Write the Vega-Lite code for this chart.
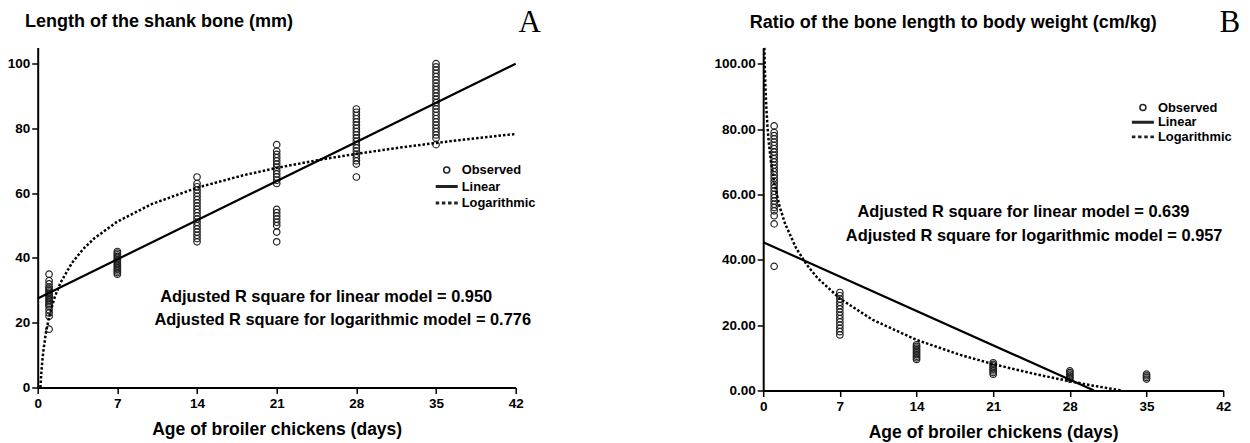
{
 "$schema": "https://vega.github.io/schema/vega-lite/v6.json",
 "background": "white",
 "autosize": {"type": "none"},
 "padding": {"left": 37.7, "top": 47.5, "right": 1212.3, "bottom": 395.5},
 "spacing": 247.5,
 "bounds": "flush",
 "resolve": {"scale": {"shape": "independent", "x": "independent", "y": "independent"}, "legend": {"shape": "independent"}},
 "config": {
  "view": {"stroke": null},
  "font": "Liberation Sans",
  "axis": {"domainColor": "black", "domainWidth": 2, "tickColor": "black", "tickWidth": 1.5, "tickSize": 6, "grid": false,
   "labelFont": "Liberation Sans", "labelFontWeight": "bold", "labelFontSize": 13.5, "labelColor": "black", "labelPadding": 2,
   "labelFlush": false, "labelOverlap": false,
   "titleFont": "Liberation Sans", "titleFontWeight": "bold", "titleFontSize": 17.5, "titleColor": "black", "titlePadding": 10},
  "axisX": {"labelPadding": 3}
 },
 "datasets": {
  "obsA": [
   {"day":1,"v":35,"series":"Observed"},{"day":1,"v":33,"series":"Observed"},{"day":1,"v":32,"series":"Observed"},{"day":1,"v":31,"series":"Observed"},{"day":1,"v":30.5,"series":"Observed"},{"day":1,"v":30,"series":"Observed"},{"day":1,"v":29.5,"series":"Observed"},{"day":1,"v":29,"series":"Observed"},{"day":1,"v":28.5,"series":"Observed"},{"day":1,"v":28,"series":"Observed"},{"day":1,"v":27.5,"series":"Observed"},{"day":1,"v":27,"series":"Observed"},{"day":1,"v":26.5,"series":"Observed"},{"day":1,"v":26,"series":"Observed"},{"day":1,"v":25.5,"series":"Observed"},{"day":1,"v":25,"series":"Observed"},{"day":1,"v":24,"series":"Observed"},{"day":1,"v":23,"series":"Observed"},{"day":1,"v":22,"series":"Observed"},{"day":1,"v":18,"series":"Observed"},
   {"day":7,"v":35,"series":"Observed"},{"day":7,"v":35.5,"series":"Observed"},{"day":7,"v":36,"series":"Observed"},{"day":7,"v":36.5,"series":"Observed"},{"day":7,"v":37,"series":"Observed"},{"day":7,"v":37.5,"series":"Observed"},{"day":7,"v":38,"series":"Observed"},{"day":7,"v":38.5,"series":"Observed"},{"day":7,"v":39,"series":"Observed"},{"day":7,"v":39.5,"series":"Observed"},{"day":7,"v":40,"series":"Observed"},{"day":7,"v":40.5,"series":"Observed"},{"day":7,"v":41,"series":"Observed"},{"day":7,"v":41.5,"series":"Observed"},{"day":7,"v":42,"series":"Observed"},
   {"day":14,"v":45,"series":"Observed"},{"day":14,"v":46,"series":"Observed"},{"day":14,"v":47,"series":"Observed"},{"day":14,"v":48,"series":"Observed"},{"day":14,"v":49,"series":"Observed"},{"day":14,"v":50,"series":"Observed"},{"day":14,"v":51,"series":"Observed"},{"day":14,"v":52,"series":"Observed"},{"day":14,"v":53,"series":"Observed"},{"day":14,"v":54,"series":"Observed"},{"day":14,"v":55,"series":"Observed"},{"day":14,"v":56,"series":"Observed"},{"day":14,"v":57,"series":"Observed"},{"day":14,"v":58,"series":"Observed"},{"day":14,"v":59,"series":"Observed"},{"day":14,"v":60,"series":"Observed"},{"day":14,"v":61,"series":"Observed"},{"day":14,"v":62,"series":"Observed"},{"day":14,"v":63,"series":"Observed"},{"day":14,"v":65,"series":"Observed"},
   {"day":21,"v":63,"series":"Observed"},{"day":21,"v":64,"series":"Observed"},{"day":21,"v":65,"series":"Observed"},{"day":21,"v":66,"series":"Observed"},{"day":21,"v":67,"series":"Observed"},{"day":21,"v":68,"series":"Observed"},{"day":21,"v":69,"series":"Observed"},{"day":21,"v":70,"series":"Observed"},{"day":21,"v":71,"series":"Observed"},{"day":21,"v":72,"series":"Observed"},{"day":21,"v":73,"series":"Observed"},{"day":21,"v":75,"series":"Observed"},{"day":21,"v":45,"series":"Observed"},{"day":21,"v":48,"series":"Observed"},{"day":21,"v":50,"series":"Observed"},{"day":21,"v":51,"series":"Observed"},{"day":21,"v":52,"series":"Observed"},{"day":21,"v":53,"series":"Observed"},{"day":21,"v":54,"series":"Observed"},{"day":21,"v":55,"series":"Observed"},
   {"day":28,"v":65,"series":"Observed"},{"day":28,"v":69,"series":"Observed"},{"day":28,"v":70,"series":"Observed"},{"day":28,"v":71,"series":"Observed"},{"day":28,"v":72,"series":"Observed"},{"day":28,"v":73,"series":"Observed"},{"day":28,"v":74,"series":"Observed"},{"day":28,"v":75,"series":"Observed"},{"day":28,"v":76,"series":"Observed"},{"day":28,"v":77,"series":"Observed"},{"day":28,"v":78,"series":"Observed"},{"day":28,"v":79,"series":"Observed"},{"day":28,"v":80,"series":"Observed"},{"day":28,"v":81,"series":"Observed"},{"day":28,"v":82,"series":"Observed"},{"day":28,"v":83,"series":"Observed"},{"day":28,"v":84,"series":"Observed"},{"day":28,"v":85,"series":"Observed"},{"day":28,"v":86,"series":"Observed"},
   {"day":35,"v":75,"series":"Observed"},{"day":35,"v":77,"series":"Observed"},{"day":35,"v":78,"series":"Observed"},{"day":35,"v":79,"series":"Observed"},{"day":35,"v":80,"series":"Observed"},{"day":35,"v":81,"series":"Observed"},{"day":35,"v":82,"series":"Observed"},{"day":35,"v":83,"series":"Observed"},{"day":35,"v":84,"series":"Observed"},{"day":35,"v":85,"series":"Observed"},{"day":35,"v":86,"series":"Observed"},{"day":35,"v":87,"series":"Observed"},{"day":35,"v":88,"series":"Observed"},{"day":35,"v":89,"series":"Observed"},{"day":35,"v":90,"series":"Observed"},{"day":35,"v":91,"series":"Observed"},{"day":35,"v":92,"series":"Observed"},{"day":35,"v":93,"series":"Observed"},{"day":35,"v":94,"series":"Observed"},{"day":35,"v":95,"series":"Observed"},{"day":35,"v":96,"series":"Observed"},{"day":35,"v":97,"series":"Observed"},{"day":35,"v":98,"series":"Observed"},{"day":35,"v":99,"series":"Observed"},{"day":35,"v":100,"series":"Observed"}
  ],
  "linA": [{"day":0,"v":27.5},{"day":42,"v":100}],
  "logA": [{"day":0.235,"v":0},{"day":0.3,"v":3.67},{"day":0.4,"v":8.02},{"day":0.5,"v":11.38},{"day":0.7,"v":16.46},{"day":1,"v":21.85},{"day":1.5,"v":27.97},{"day":2,"v":32.32},{"day":3,"v":38.44},{"day":4,"v":42.78},{"day":5,"v":46.15},{"day":7,"v":51.23},{"day":10,"v":56.62},{"day":14,"v":61.7},{"day":18,"v":65.49},{"day":21,"v":67.83},{"day":25,"v":70.46},{"day":28,"v":72.16},{"day":32,"v":74.18},{"day":35,"v":75.53},{"day":38,"v":76.78},{"day":42,"v":78.29}],
  "annA": [{"day":25.35,"v":28.0,"label":"Adjusted R square for linear model = 0.950"},{"day":26.8,"v":20.8,"label":"Adjusted R square for logarithmic model = 0.776"}],
  "letterA": [{"day":43.23,"v":109.8,"label":"A"}],
  "titleA": [{"day":-1.116,"v":111.4,"label":"Length of the shank bone (mm)"}],
  "obsB": [
   {"day":1,"v":81,"series":"Observed"},{"day":1,"v":79,"series":"Observed"},{"day":1,"v":78,"series":"Observed"},{"day":1,"v":77,"series":"Observed"},{"day":1,"v":76,"series":"Observed"},{"day":1,"v":75,"series":"Observed"},{"day":1,"v":74,"series":"Observed"},{"day":1,"v":73,"series":"Observed"},{"day":1,"v":72,"series":"Observed"},{"day":1,"v":71,"series":"Observed"},{"day":1,"v":70,"series":"Observed"},{"day":1,"v":69,"series":"Observed"},{"day":1,"v":68,"series":"Observed"},{"day":1,"v":67,"series":"Observed"},{"day":1,"v":66,"series":"Observed"},{"day":1,"v":65,"series":"Observed"},{"day":1,"v":64,"series":"Observed"},{"day":1,"v":63,"series":"Observed"},{"day":1,"v":62,"series":"Observed"},{"day":1,"v":61,"series":"Observed"},{"day":1,"v":60,"series":"Observed"},{"day":1,"v":59,"series":"Observed"},{"day":1,"v":58,"series":"Observed"},{"day":1,"v":57,"series":"Observed"},{"day":1,"v":56,"series":"Observed"},{"day":1,"v":55,"series":"Observed"},{"day":1,"v":53.5,"series":"Observed"},{"day":1,"v":51,"series":"Observed"},{"day":1,"v":38,"series":"Observed"},
   {"day":7,"v":17,"series":"Observed"},{"day":7,"v":18,"series":"Observed"},{"day":7,"v":19,"series":"Observed"},{"day":7,"v":20,"series":"Observed"},{"day":7,"v":21,"series":"Observed"},{"day":7,"v":22,"series":"Observed"},{"day":7,"v":23,"series":"Observed"},{"day":7,"v":24,"series":"Observed"},{"day":7,"v":25,"series":"Observed"},{"day":7,"v":26,"series":"Observed"},{"day":7,"v":27,"series":"Observed"},{"day":7,"v":28,"series":"Observed"},{"day":7,"v":29,"series":"Observed"},{"day":7,"v":30,"series":"Observed"},
   {"day":14,"v":9.5,"series":"Observed"},{"day":14,"v":10,"series":"Observed"},{"day":14,"v":10.5,"series":"Observed"},{"day":14,"v":11,"series":"Observed"},{"day":14,"v":11.5,"series":"Observed"},{"day":14,"v":12,"series":"Observed"},{"day":14,"v":12.5,"series":"Observed"},{"day":14,"v":13,"series":"Observed"},{"day":14,"v":13.5,"series":"Observed"},{"day":14,"v":14,"series":"Observed"},
   {"day":21,"v":5,"series":"Observed"},{"day":21,"v":5.5,"series":"Observed"},{"day":21,"v":6,"series":"Observed"},{"day":21,"v":6.5,"series":"Observed"},{"day":21,"v":7,"series":"Observed"},{"day":21,"v":7.5,"series":"Observed"},{"day":21,"v":8,"series":"Observed"},{"day":21,"v":8.5,"series":"Observed"},
   {"day":28,"v":3.5,"series":"Observed"},{"day":28,"v":4,"series":"Observed"},{"day":28,"v":4.5,"series":"Observed"},{"day":28,"v":5,"series":"Observed"},{"day":28,"v":5.5,"series":"Observed"},{"day":28,"v":6,"series":"Observed"},
   {"day":35,"v":3.5,"series":"Observed"},{"day":35,"v":4,"series":"Observed"},{"day":35,"v":4.5,"series":"Observed"},{"day":35,"v":5,"series":"Observed"}
  ],
  "linB": [{"day":0,"v":45.4},{"day":30.2,"v":0}],
  "logB": [{"day":0.105,"v":104.88},{"day":0.15,"v":98.36},{"day":0.2,"v":93.1},{"day":0.3,"v":85.7},{"day":0.4,"v":80.44},{"day":0.5,"v":76.36},{"day":0.7,"v":70.22},{"day":1,"v":63.7},{"day":1.5,"v":56.3},{"day":2,"v":51.04},{"day":3,"v":43.62},{"day":4,"v":38.38},{"day":5,"v":34.3},{"day":7,"v":28.15},{"day":10,"v":21.63},{"day":14,"v":15.49},{"day":18,"v":10.9},{"day":21,"v":8.07},{"day":25,"v":4.89},{"day":28,"v":2.83},{"day":30,"v":1.56},{"day":32.7,"v":0}],
  "annB": [{"day":23.76,"v":54.5,"label":"Adjusted R square for linear model = 0.639"},{"day":24.74,"v":47.4,"label":"Adjusted R square for logarithmic model = 0.957"}],
  "letterB": [{"day":42.6,"v":109.7,"label":"B"}],
  "titleB": [{"day":-1.233,"v":111.0,"label":"Ratio of the bone length to body weight (cm/kg)"}]
 },
 "hconcat": [
  {
   "width": 478, "height": 340,
   "encoding": {
    "x": {"field": "day", "type": "quantitative", "scale": {"domain": [0, 42], "nice": false, "zero": false}, "axis": {"values": [0, 7, 14, 21, 28, 35, 42], "format": "d", "title": "Age of broiler chickens (days)"}},
    "y": {"field": "v", "type": "quantitative", "scale": {"domain": [0, 105], "nice": false}, "axis": {"values": [0, 20, 40, 60, 80, 100], "format": "d", "title": null}}
   },
   "layer": [
    {"data": {"name": "obsA"}, "mark": {"type": "point", "filled": false, "color": "#222222", "strokeWidth": 1.2, "size": 169, "opacity": 1},
     "encoding": {"shape": {"field": "series", "type": "nominal",
      "scale": {"domain": ["Observed", "Linear", "Logarithmic"], "range": ["M-0.5,0A0.5,0.5,0,1,1,0.5,0A0.5,0.5,0,1,1,-0.5,0Z", "M-1.833,-0.12H1.833M-1.833,0H1.833M-1.833,0.12H1.833", "M-1.833,-0.12H-1.25M-0.806,-0.12H-0.222M0.222,-0.12H0.806M1.25,-0.12H1.833M-1.833,0H-1.25M-0.806,0H-0.222M0.222,0H0.806M1.25,0H1.833M-1.833,0.12H-1.25M-0.806,0.12H-0.222M0.222,0.12H0.806M1.25,0.12H1.833"]},
      "legend": {"title": null, "orient": "none", "legendX": 402, "legendY": 115.5, "padding": 0, "rowPadding": 2.5, "symbolSize": 144, "labelOffset": 8,
       "labelFont": "Liberation Sans", "labelFontWeight": "bold", "labelFontSize": 12.9, "labelColor": "black",
       "encode": {"symbols": {"update": {"stroke": {"value": "black"}, "fill": {"value": "transparent"}, "size": {"value": 144}}}}}}}},
    {"data": {"name": "linA"}, "mark": {"type": "line", "color": "black", "strokeWidth": 2.2}, "encoding": {}},
    {"data": {"name": "logA"}, "mark": {"type": "line", "color": "black", "strokeWidth": 2.5, "strokeDash": [2.5, 2]}, "encoding": {}},
    {"data": {"name": "annA"}, "mark": {"type": "text", "font": "Liberation Sans", "fontWeight": "bold", "fontSize": 16.4, "color": "black", "align": "center", "baseline": "middle"}, "encoding": {"text": {"field": "label"}}},
    {"data": {"name": "letterA"}, "mark": {"type": "text", "font": "Liberation Serif", "fontSize": 31, "color": "black", "align": "center", "baseline": "alphabetic"}, "encoding": {"text": {"field": "label"}}},
    {"data": {"name": "titleA"}, "mark": {"type": "text", "font": "Liberation Sans", "fontWeight": "bold", "fontSize": 18, "color": "black", "align": "left", "baseline": "alphabetic"}, "encoding": {"text": {"field": "label"}}}
   ]
  },
  {
   "width": 460, "height": 343,
   "encoding": {
    "x": {"field": "day", "type": "quantitative", "scale": {"domain": [0, 42], "nice": false, "zero": false}, "axis": {"values": [0, 7, 14, 21, 28, 35, 42], "format": "d", "title": "Age of broiler chickens (days)"}},
    "y": {"field": "v", "type": "quantitative", "scale": {"domain": [0, 105], "nice": false}, "axis": {"values": [0, 20, 40, 60, 80, 100], "format": ".2f", "title": null}}
   },
   "layer": [
    {"data": {"name": "obsB"}, "mark": {"type": "point", "filled": false, "color": "#222222", "strokeWidth": 1.2, "size": 169, "opacity": 1},
     "encoding": {"shape": {"field": "series", "type": "nominal",
      "scale": {"domain": ["Observed", "Linear", "Logarithmic"], "range": ["M-0.5,0A0.5,0.5,0,1,1,0.5,0A0.5,0.5,0,1,1,-0.5,0Z", "M-1.833,-0.12H1.833M-1.833,0H1.833M-1.833,0.12H1.833", "M-1.833,-0.12H-1.25M-0.806,-0.12H-0.222M0.222,-0.12H0.806M1.25,-0.12H1.833M-1.833,0H-1.25M-0.806,0H-0.222M0.222,0H0.806M1.25,0H1.833M-1.833,0.12H-1.25M-0.806,0.12H-0.222M0.222,0.12H0.806M1.25,0.12H1.833"]},
      "legend": {"title": null, "orient": "none", "legendX": 372.7, "legendY": 53, "padding": 0, "rowPadding": 0.7, "symbolSize": 144, "labelOffset": 8,
       "labelFont": "Liberation Sans", "labelFontWeight": "bold", "labelFontSize": 12.9, "labelColor": "black",
       "encode": {"symbols": {"update": {"stroke": {"value": "black"}, "fill": {"value": "transparent"}, "size": {"value": 144}}}}}}}},
    {"data": {"name": "linB"}, "mark": {"type": "line", "color": "black", "strokeWidth": 2.2}, "encoding": {}},
    {"data": {"name": "logB"}, "mark": {"type": "line", "color": "black", "strokeWidth": 2.5, "strokeDash": [2.5, 2]}, "encoding": {}},
    {"data": {"name": "annB"}, "mark": {"type": "text", "font": "Liberation Sans", "fontWeight": "bold", "fontSize": 16.4, "color": "black", "align": "center", "baseline": "middle"}, "encoding": {"text": {"field": "label"}}},
    {"data": {"name": "letterB"}, "mark": {"type": "text", "font": "Liberation Serif", "fontSize": 31, "color": "black", "align": "center", "baseline": "alphabetic"}, "encoding": {"text": {"field": "label"}}},
    {"data": {"name": "titleB"}, "mark": {"type": "text", "font": "Liberation Sans", "fontWeight": "bold", "fontSize": 18, "color": "black", "align": "left", "baseline": "alphabetic"}, "encoding": {"text": {"field": "label"}}}
   ]
  }
 ]
}
